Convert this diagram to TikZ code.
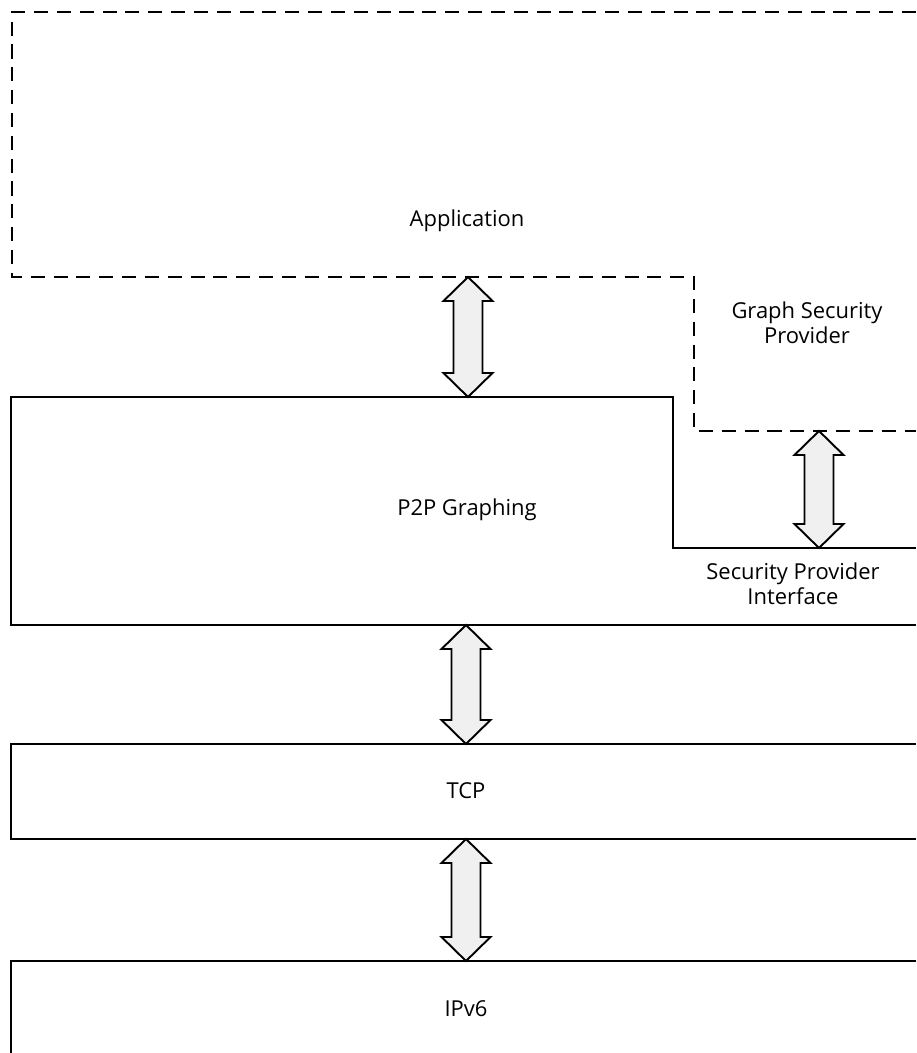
\documentclass[tikz,border=0pt]{standalone}
\usepackage{fontspec}
\setmainfont{Open Sans}
\usetikzlibrary{calc}
\newcommand\fatarrow[2]{%
	\draw[fatarrow] (#1) -- ++(24.5,24) -- ++(-10,0) -- ($(#2)+(14.5,-24)$) -- ++(10,0) -- (#2)
		-- ++(-24.5,-24) -- ++(10,0) -- ($(#1)+(-14.5,24)$) -- ++(-10,0) -- cycle;}

\begin{document}
\begin{tikzpicture}[
		x=0.02cm, y=-0.02cm,
		layer/.style={line width=1.1pt},
		dashlayer/.style={layer,dash pattern=on 8pt off 5pt},
		fatarrow/.style={draw,line width=1.1pt,fill=black!6,line join=miter},
		lbl/.style={align=center,font=\fontsize{12.5}{14.2}\selectfont}
		]
		\useasboundingbox (0,0) rectangle (916,1053);
		
		% layers
		\draw[dashlayer] (916,12) -- (12,12) -- (12,277) -- (694,277) -- (694,431) -- (916,431);
		\draw[layer] (916,548) -- (673,548) -- (673,397) -- (11,397) -- (11,625) -- (916,625);
		\draw[layer] (916,744) -- (11,744) -- (11,839) -- (916,839);
		\draw[layer] (916,961) -- (11,961) -- (11,1053);
		
		\node[lbl] (app) at (467,221) {Application};
		\node[lbl] (gsp) at (807,323) {Graph Security\\Provider};
		\node[lbl] (p2p) at (467,510) {P2P Graphing};
		\node[lbl] (spi) at (793,584) {Security Provider\\Interface};
		\node[lbl] (tcp) at (466,791) {TCP};
		\node[lbl] (ipv6) at (466,1009) {IPv6};
		
		\coordinate (app-s) at (468,277);
		\coordinate (p2p-n) at (468,397);
		\coordinate (gsp-s) at (819,431);
		\coordinate (spi-n) at (819,548);
		\coordinate (p2p-s) at (466,625);
		\coordinate (tcp-n) at (466,744);
		\coordinate (tcp-s) at (466,839);
		\coordinate (ipv6-n) at (466,961);
		
		\fatarrow{app-s}{p2p-n}
		\fatarrow{gsp-s}{spi-n}
		\fatarrow{p2p-s}{tcp-n}
		\fatarrow{tcp-s}{ipv6-n}
%		\draw[help lines] (0,0) grid[step=100] (916,1053);
	\end{tikzpicture}
\end{document}
